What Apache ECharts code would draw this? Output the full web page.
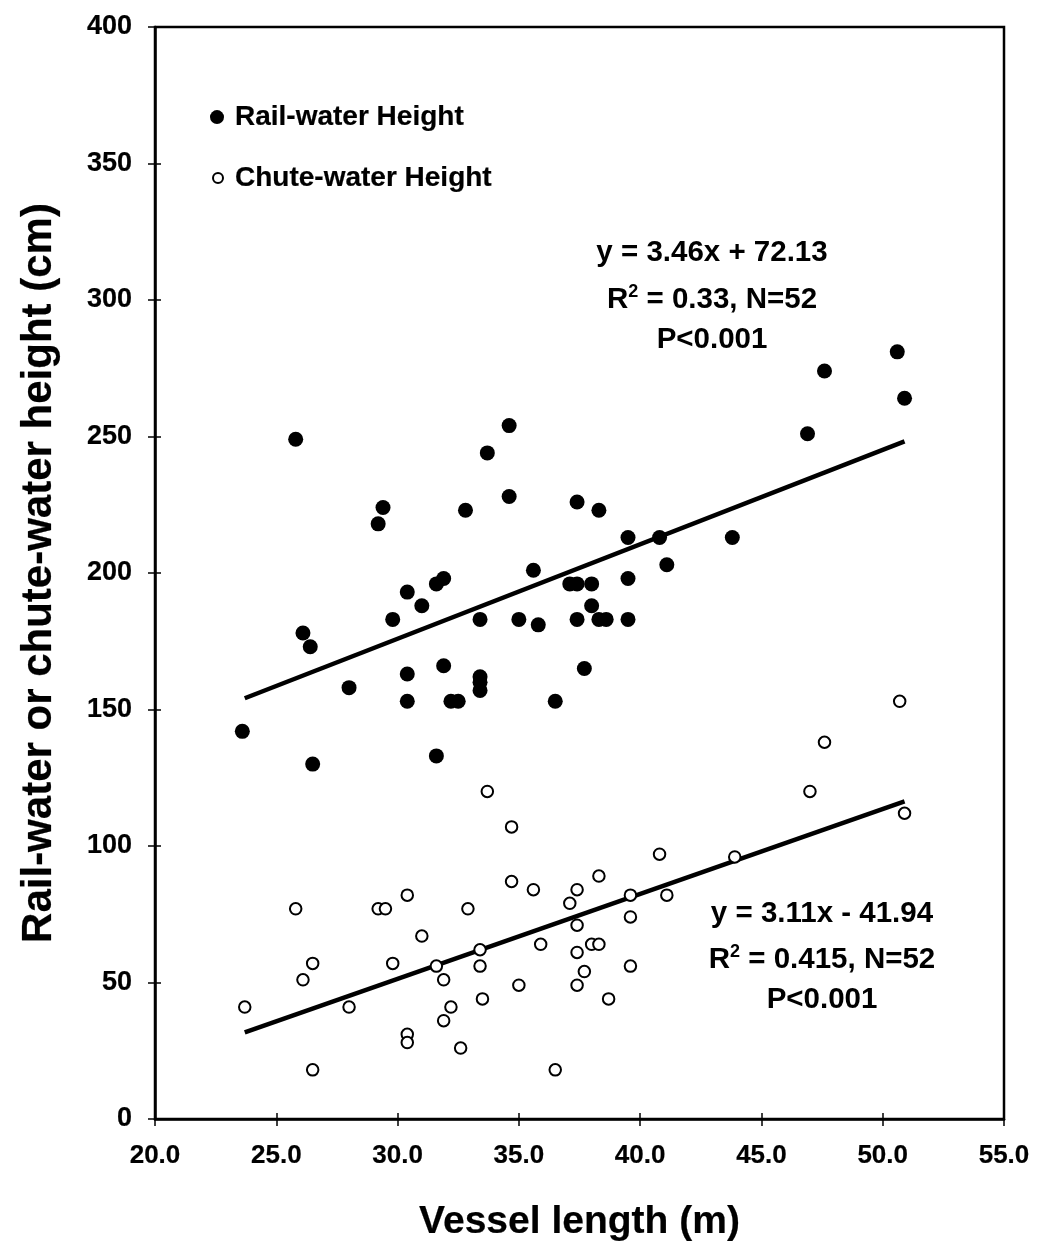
<!DOCTYPE html>
<html><head><meta charset="utf-8">
<script src="https://cdn.jsdelivr.net/npm/echarts/dist/echarts.min.js"></script>
<style>html,body{margin:0;padding:0;background:#fff}#c{width:1040px;height:1252px}</style>
</head><body><div id="c"></div>
<script>
// ---- data ----
const railX = [23.6,25.8,26.1,26.4,26.5,28.0,29.2,29.4,29.8,30.4,30.4,30.4,31.0,31.6,31.9,31.6,31.9,32.2,32.5,32.8,33.4,33.4,33.4,33.4,33.7,34.6,34.6,35.0,35.6,35.8,36.5,37.1,37.4,37.4,37.4,37.7,38.0,38.0,38.3,38.3,38.6,39.5,39.5,39.5,40.8,41.1,43.8,46.9,47.6,50.6,50.9];
const railY = [142,249,178,173,130,158,218,224,183,193,163,153,188,196,198,133,166,153,153,223,183,162,160,157,244,254,228,183,201,181,153,196,196,226,183,165,196,188,223,183,183,213,198,183,213,203,213,251,274,281,264];
const chuteX = [23.7,25.8,26.1,26.5,26.5,28.0,29.2,29.5,29.8,30.4,30.4,30.4,31.0,31.6,31.9,31.9,32.2,32.6,32.9,33.4,33.4,33.5,33.7,34.7,34.7,35.0,35.6,35.9,36.5,37.1,37.4,37.4,37.4,37.4,37.7,38.0,38.3,38.3,38.7,39.6,39.6,39.6,40.8,41.1,43.9,47.0,47.6,50.7,50.9];
const chuteY = [41,77,51,57,18,41,77,77,57,82,31,28,67,56,51,36,41,26,77,62,56,44,120,107,87,49,84,64,18,79,84,71,61,49,54,64,64,89,44,82,74,56,97,82,96,120,138,153,112];
const seriesNames = ['Rail-water Height','Chute-water Height'];
const railFit = {slope: 3.46, intercept: 72.13};
const chuteFit = {slope: 3.11, intercept: -41.94};
const fitRange = [23.7, 50.9];
const xRange = [20, 55, 5];
const yRange = [0, 400, 50];
const railNote = ['y = 3.46x + 72.13', '0.33, N=52', 'P<0.001'];
const chuteNote = ['y = 3.11x - 41.94', '0.415, N=52', 'P<0.001'];

// ---- chart ----
const FONT = '"Liberation Sans", Arial, sans-serif';
const W = 'bold';
const thick = {textBorderColor:'#000', textBorderWidth:0.2};
const pairs = (xs, ys) => xs.map((x,i)=>[x, ys[i]]);
const fitLine = f => fitRange.map(x => [x, +(f.slope*x + f.intercept).toFixed(2)]);
const GRID = {left:155, right:36, top:27, bottom:133};
const PW = 1040 - GRID.left - GRID.right, PH = 1252 - GRID.top - GRID.bottom;

const chart = echarts.init(document.getElementById('c'), null, {renderer:'canvas'});
function note(lines, cx, ys, size){
  const base = {fontFamily:FONT, fontWeight:W, fontSize:size, fill:'#000', align:'center', verticalAlign:'middle'};
  return [
    {type:'text', x:cx, y:ys[0], style:Object.assign({}, base, {text:lines[0]})},
    {type:'text', x:cx, y:ys[1], style:Object.assign({}, base, {
      text:'{r|R}{s|2}{r| = '+lines[1]+'}',
      rich:{r:{fontFamily:FONT, fontWeight:W, fontSize:size, lineHeight:size+4, fill:'#000'},
            s:{fontFamily:FONT, fontWeight:W, fontSize:Math.round(size*0.62), lineHeight:size+4, verticalAlign:'top', fill:'#000'}}
    })},
    {type:'text', x:cx, y:ys[2], style:Object.assign({}, base, {text:lines[2]})}
  ];
}
const tick = {show:true, length:7, lineStyle:{color:'#000', width:1.5}};
const innerTick = {show:true, length:6, lineStyle:{color:'#000', width:1.5}};

chart.setOption({
  animation:false,
  backgroundColor:'#fff',
  textStyle:{fontFamily:FONT, color:'#000'},
  grid:Object.assign({show:true, borderColor:'#000', borderWidth:2.5, backgroundColor:'#fff'}, GRID),
  legend:[
    {data:[seriesNames[0]], left:205, top:98, itemWidth:26, itemHeight:14, symbolKeepAspect:true,
     textStyle:Object.assign({fontFamily:FONT, fontWeight:W, fontSize:28, color:'#000'}, thick)},
    {data:[seriesNames[1]], left:207, top:159, itemWidth:24, itemHeight:10, symbolKeepAspect:true,
     itemStyle:{borderWidth:2},
     textStyle:Object.assign({fontFamily:FONT, fontWeight:W, fontSize:28, color:'#000'}, thick)}
  ],
  xAxis:[{type:'value', min:xRange[0], max:xRange[1], interval:xRange[2], position:'bottom',
    name:'Vessel length (m)', nameLocation:'middle', nameGap:84,
    nameTextStyle:Object.assign({fontFamily:FONT, fontWeight:W, fontSize:39, color:'#000'}, thick),
    axisLine:{lineStyle:{color:'#000', width:2.5}},
    axisTick:tick,
    splitLine:{show:false},
    axisLabel:Object.assign({fontFamily:FONT, fontWeight:W, fontSize:26, color:'#000', margin:24, formatter:v=>v.toFixed(1)}, thick)},
   {type:'value', min:xRange[0], max:xRange[1], interval:xRange[2], position:'top', offset:-PH,
    axisLine:{show:false}, axisTick:innerTick, axisLabel:{show:false}, splitLine:{show:false}}],
  yAxis:[{type:'value', min:yRange[0], max:yRange[1], interval:yRange[2], position:'left',
    name:'Rail-water or chute-water height (cm)', nameLocation:'middle', nameGap:95,
    nameTextStyle:Object.assign({fontFamily:FONT, fontWeight:W, fontSize:42, color:'#000'}, thick),
    axisLine:{show:true, lineStyle:{color:'#000', width:2.5}},
    axisTick:tick,
    splitLine:{show:false},
    axisLabel:Object.assign({fontFamily:FONT, fontWeight:W, fontSize:27, color:'#000', margin:23}, thick)},
   {type:'value', min:yRange[0], max:yRange[1], interval:yRange[2], position:'right', offset:-PW,
    axisLine:{show:false}, axisTick:innerTick, axisLabel:{show:false}, splitLine:{show:false}}],
  series:[
    {name:seriesNames[0], type:'scatter', symbol:'circle', symbolSize:15,
     itemStyle:{color:'#000', opacity:1}, data:pairs(railX, railY), z:3},
    {name:seriesNames[1], type:'scatter', symbol:'emptyCircle', symbolSize:11.5,
     itemStyle:{color:'#000', borderColor:'#000', borderWidth:2.6, opacity:1}, data:pairs(chuteX, chuteY), z:3},
    {name:'rail fit', type:'line', data:fitLine(railFit), showSymbol:false, symbol:'none',
     lineStyle:{color:'#000', width:4.5}, z:2, silent:true},
    {name:'chute fit', type:'line', data:fitLine(chuteFit), showSymbol:false, symbol:'none',
     lineStyle:{color:'#000', width:4.5}, z:2, silent:true}
  ],
  graphic: note(railNote, 712, [253, 300, 340], 29.5).concat(note(chuteNote, 822, [914, 960, 1000], 29.5))
});
</script>
</body></html>
